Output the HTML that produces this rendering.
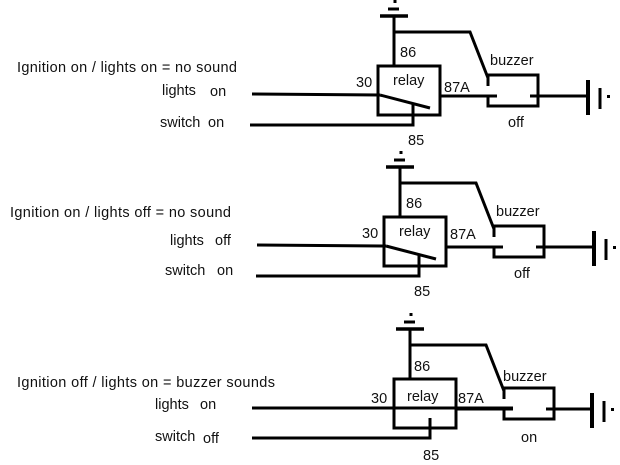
<!DOCTYPE html>
<html><head><meta charset="utf-8"><style>
html,body{margin:0;padding:0;background:#fff}
svg{display:block}
text{font-family:"Liberation Sans",Arial,sans-serif;font-size:14.5px;fill:#111}
</style></head><body>
<svg width="620" height="465" viewBox="0 0 620 465" xmlns="http://www.w3.org/2000/svg">
<defs>
<g id="top" stroke="#000" stroke-width="3" fill="none">
  <line x1="395" y1="0" x2="395" y2="3"/>
  <line x1="388" y1="9" x2="399" y2="9" stroke-width="3"/>
  <line x1="380" y1="16" x2="408" y2="16" stroke-width="3.5"/>
  <line x1="394" y1="16" x2="394" y2="65"/>
  <polyline points="394,32 470,32 488,78"/>
  <rect x="378" y="66" width="62" height="49"/>
  <line x1="440" y1="96" x2="497" y2="96"/>
  <polyline points="497,96 488,96 488,106 538,106 538,75 488,75 488,86"/>
  <line x1="530" y1="96" x2="560" y2="96"/>
</g>
<g id="gnd" stroke="#000" stroke-width="3" fill="none">
  <line x1="0" y1="96" x2="30" y2="96"/>
  <line x1="30" y1="80" x2="30" y2="115" stroke-width="4"/>
  <line x1="42" y1="88" x2="42" y2="109"/>
  <rect x="49" y="95" width="3" height="3" fill="#000" stroke="none"/>
</g>
</defs>

<!-- Diagram 1 -->
<use href="#top"/>
<use href="#gnd" transform="translate(558,0)"/>
<g stroke="#000" stroke-width="3" fill="none">
  <line x1="252" y1="94" x2="380" y2="95"/>
  <line x1="380" y1="95" x2="430" y2="108"/>
  <polyline points="250,125 413,125 413,104"/>
</g>
<text x="17" y="72" textLength="220">Ignition on / lights on = no sound</text>
<text x="162" y="95">lights</text><text x="210" y="96">on</text>
<text x="160" y="127">switch</text><text x="208" y="127">on</text>
<text x="400" y="57">86</text>
<text x="393" y="85">relay</text>
<text x="356" y="87">30</text>
<text x="444" y="92">87A</text>
<text x="490" y="65">buzzer</text>
<text x="508" y="127">off</text>
<text x="408" y="145">85</text>

<!-- Diagram 2 -->
<g transform="translate(6,151)">
<use href="#top"/>
<use href="#gnd" transform="translate(558,0)"/>
<g stroke="#000" stroke-width="3" fill="none">
  <line x1="251" y1="94" x2="380" y2="95"/>
  <line x1="380" y1="95" x2="430" y2="108"/>
  <polyline points="250,125 413,125 413,104"/>
</g>
<text x="400" y="57">86</text>
<text x="393" y="85">relay</text>
<text x="356" y="87">30</text>
<text x="444" y="88">87A</text>
<text x="490" y="65">buzzer</text>
<text x="508" y="127">off</text>
<text x="408" y="145">85</text>
</g>
<text x="10" y="217" textLength="221">Ignition on / lights off = no sound</text>
<text x="170" y="245">lights</text><text x="215" y="245">off</text>
<text x="165" y="275">switch</text><text x="217" y="275">on</text>

<!-- Diagram 3 -->
<g transform="translate(16,313)">
<use href="#top"/>
<g stroke="#000" stroke-width="3" fill="none">
  <line x1="236" y1="95" x2="497" y2="95"/>
  <polyline points="236,125 414,125 414,105"/>
</g>
<text x="398" y="58">86</text>
<text x="391" y="88">relay</text>
<text x="355" y="90">30</text>
<text x="442" y="90">87A</text>
<text x="487" y="68">buzzer</text>
<text x="505" y="129">on</text>
<text x="407" y="147">85</text>
</g>
<use href="#gnd" transform="translate(562,313)"/>
<text x="17" y="387" textLength="258">Ignition off / lights on = buzzer sounds</text>
<text x="155" y="409">lights</text><text x="200" y="409">on</text>
<text x="155" y="441">switch</text><text x="203" y="443">off</text>
</svg>
</body></html>
